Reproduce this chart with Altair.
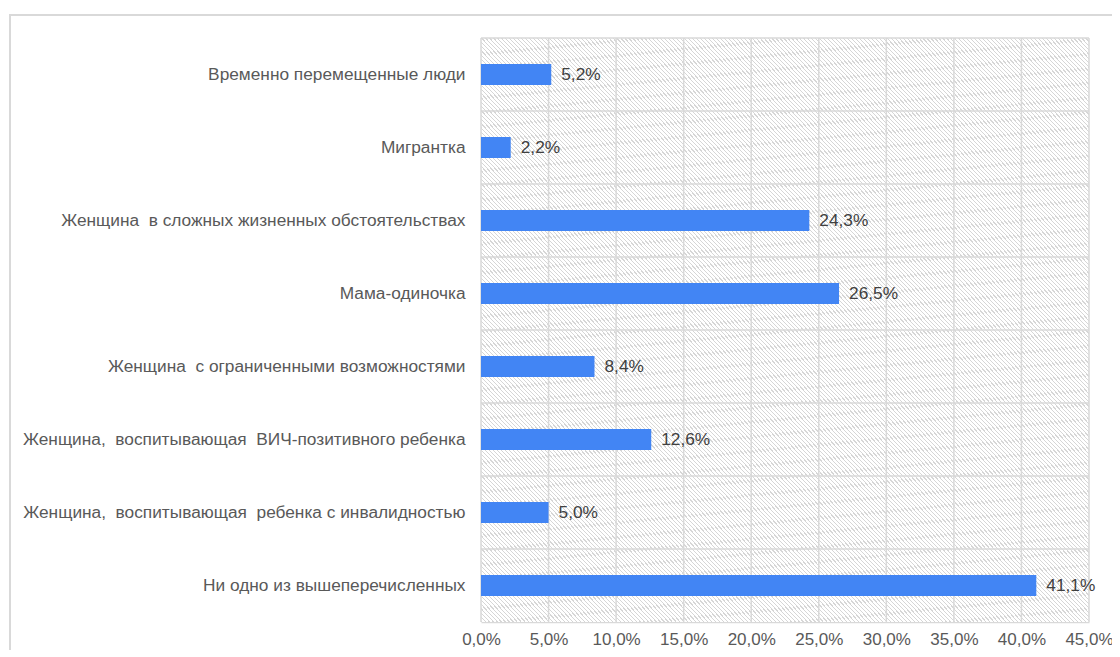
import altair as alt
import pandas as pd

categories = [
    "Временно перемещенные люди",
    "Мигрантка",
    "Женщина\u00a0 в сложных жизненных обстоятельствах",
    "Мама-одиночка",
    "Женщина\u00a0 с ограниченными возможностями",
    "Женщина,\u00a0 воспитывающая\u00a0 ВИЧ-позитивного ребенка",
    "Женщина,\u00a0 воспитывающая\u00a0 ребенка с инвалидностью",
    "Ни одно из вышеперечисленных",
]
values = [5.2, 2.2, 24.3, 26.5, 8.4, 12.6, 5.0, 41.1]
x_ticks = [0, 5, 10, 15, 20, 25, 30, 35, 40, 45]

df = pd.DataFrame({"cat": categories, "v": values})
ticks_df = pd.DataFrame({"t": x_ticks})
cells_df = pd.DataFrame(
    [{"cat": c, "t": a, "t2": b} for c in categories for a, b in zip(x_ticks[:-1], x_ticks[1:])]
)

W, H = 608, 584
FONT = "Liberation Sans"
GRID = "#d9d9d9"
FS = 17.3

# diagonal hatch for each grid cell, built as a striped linear gradient
N = 34
f = 0.3
stops = []
for k in range(N):
    a = k / N
    b = (k + f) / N
    c = (k + 1) / N
    stops += [
        {"offset": round(a, 5), "color": "#d6d6d6"},
        {"offset": round(b, 5), "color": "#d6d6d6"},
        {"offset": round(b, 5), "color": "#ffffff"},
        {"offset": round(c, 5), "color": "#ffffff"},
    ]
grad = alt.LinearGradient(gradient="linear", stops=stops, x1=0, y1=1, x2=1, y2=0)

xscale = alt.Scale(domain=[0, 45])
yscale = alt.Scale(type="band", paddingInner=0, paddingOuter=0)

xaxis = alt.Axis(
    values=x_ticks,
    labelExpr="replace(format(datum.value, '.1f'), '.', ',') + '%'",
    grid=False,
    ticks=False,
    domain=True,
    domainColor=GRID,
    domainWidth=1.5,
    labelPadding=9,
    labelFontSize=17,
    labelColor="#595959",
    labelFont=FONT,
    labelFlush=False,
    labelOverlap=False,
    title=None,
)
yaxis = alt.Axis(
    title=None,
    domain=False,
    ticks=False,
    grid=False,
    labelPadding=16,
    labelFontSize=FS,
    labelColor="#595959",
    labelFont=FONT,
    labelLimit=0,
)

one = alt.Data(values=[{}])
border = alt.Chart(one).mark_rect(filled=False, stroke=GRID, strokeWidth=2).encode(
    x=alt.value(-471), x2=alt.value(800), y=alt.value(-23), y2=alt.value(800)
)

cells = alt.Chart(cells_df).mark_rect(fill=grad, strokeWidth=0).encode(
    x=alt.X("t:Q", scale=xscale, axis=xaxis),
    x2="t2:Q",
    y=alt.Y("cat:N", sort=categories, scale=yscale, axis=yaxis),
)

xrules = alt.Chart(ticks_df).mark_rule(color=GRID, strokeWidth=1.5).encode(
    x=alt.X("t:Q", scale=xscale, axis=xaxis)
)

yrules = alt.Chart(df).mark_rule(color=GRID, strokeWidth=1.5).encode(
    y=alt.Y("cat:N", sort=categories, scale=yscale, bandPosition=0, axis=yaxis)
)

bars = alt.Chart(df).mark_bar(size=21, color="#4285F4").encode(
    x=alt.X("v:Q", scale=xscale, axis=xaxis),
    y=alt.Y("cat:N", sort=categories, scale=yscale, axis=yaxis),
)

texts = alt.Chart(df).transform_calculate(
    label="replace(format(datum.v, '.1f'), '.', ',') + '%'"
).mark_text(align="left", baseline="middle", dx=10, fontSize=FS, color="#404040", font=FONT).encode(
    x=alt.X("v:Q", scale=xscale, axis=xaxis),
    y=alt.Y("cat:N", sort=categories, scale=yscale, axis=yaxis),
    text="label:N",
)

chart = (
    alt.layer(border, cells, xrules, yrules, bars, texts)
    .properties(
        width=W,
        height=H,
        padding={"left": 473, "top": 30, "right": 23, "bottom": 28},
        autosize="none",
        background="#ffffff",
    )
    .configure_view(strokeWidth=0)
)

chart.save("out.html", embed_options={"renderer": "svg", "actions": False})
